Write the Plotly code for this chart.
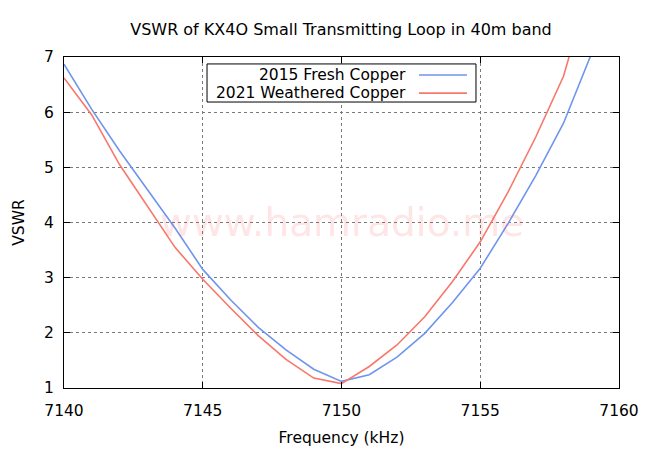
import plotly.graph_objects as go

freq = [7140, 7141, 7142, 7143, 7144, 7145, 7146, 7147, 7148, 7149, 7150,
        7151, 7152, 7153, 7154, 7155, 7156, 7157, 7158, 7159, 7160]

# 2015 fresh copper
vswr_2015 = [6.87, 6.05, 5.3, 4.6, 3.9, 3.15, 2.6, 2.1, 1.69, 1.34, 1.12,
             1.24, 1.56, 1.99, 2.55, 3.17, 3.98, 4.85, 5.8, 7.05, 8.4]
# 2021 weathered copper
vswr_2021 = [6.62, 5.95, 5.05, 4.3, 3.55, 2.97, 2.45, 1.95, 1.52, 1.18, 1.08,
             1.39, 1.78, 2.29, 2.93, 3.65, 4.55, 5.55, 6.65, 8.4, 10.0]

names = ["2015 Fresh Copper", "2021 Weathered Copper"]
colors = ["#6f95ec", "#f8776a"]

FONT = "DejaVu Sans"
fsize = 15.5

fig = go.Figure()
for name, ys, col in zip(names, [vswr_2015, vswr_2021], colors):
    fig.add_trace(go.Scatter(x=freq, y=ys, mode="lines", name=name,
                             line=dict(color=col, width=1.6)))

axis_common = dict(
    showline=True, linecolor="black", linewidth=1, mirror="ticks",
    ticks="inside", ticklen=6, tickcolor="black", tickwidth=1,
    showgrid=True, gridcolor="#7a7a7a", griddash="dot", gridwidth=1,
    zeroline=False, automargin=False, tickfont=dict(size=fsize, color="black"),
)

# page body has an 8px margin, so the figure is 8px smaller than the window
fig.update_layout(
    width=642, height=442,
    margin=dict(l=56, r=31, t=49, b=62),
    paper_bgcolor="white", plot_bgcolor="white",
    font=dict(family=FONT, size=fsize, color="black"),
    showlegend=False,
    title=dict(text="VSWR of KX4O Small Transmitting Loop in 40m band",
               x=0.5187, xanchor="center", y=0.952, yanchor="middle",
               font=dict(size=16)),
    xaxis=dict(range=[7140, 7160], tickvals=[7140, 7145, 7150, 7155, 7160],
               ticklabelstandoff=8,
               title=dict(text="Frequency (kHz)", standoff=13,
                          font=dict(size=fsize)), **axis_common),
    yaxis=dict(range=[1, 7], dtick=1, ticklabelstandoff=6,
               title=dict(text="VSWR", standoff=15,
                          font=dict(size=fsize)), **axis_common),
)

# watermark
fig.add_annotation(text="www.hamradio.me", xref="paper", yref="paper",
                   x=0.5, y=0.5, showarrow=False,
                   font=dict(size=39, color="rgba(250,60,60,0.15)"))

# gnuplot-style key: text right-justified, line sample on the right
fig.add_shape(type="rect", xref="paper", yref="paper",
              x0=0.2577, x1=0.7423, y0=0.864, y1=0.979,
              line=dict(color="black", width=1), fillcolor="white", layer="above")
row_y = [0.9456, 0.891]
for name, col, yy in zip(names, colors, row_y):
    fig.add_annotation(text=name, xref="paper", yref="paper", x=0.6198, y=yy,
                       xanchor="right", yanchor="middle", showarrow=False,
                       font=dict(size=fsize))
    fig.add_shape(type="line", xref="paper", yref="paper",
                  x0=0.6396, x1=0.7261, y0=yy, y1=yy,
                  line=dict(color=col, width=1.6))

fig.write_html("out.html")
